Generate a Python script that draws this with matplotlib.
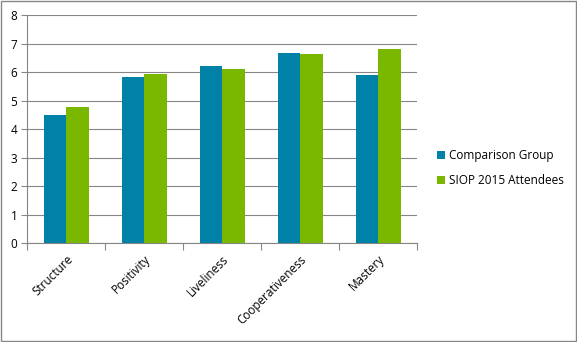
import matplotlib
matplotlib.use("Agg")
import matplotlib.pyplot as plt
import numpy as np
from matplotlib.patches import Rectangle

plt.rcParams["font.family"] = ["Open Sans", "DejaVu Sans"]

CATEGORIES = ["Structure", "Positivity", "Liveliness", "Cooperativeness", "Mastery"]
COMPARISON = [4.49, 5.82, 6.21, 6.67, 5.89]
SIOP_2015 = [4.77, 5.93, 6.10, 6.63, 6.81]
SERIES_NAMES = ["Comparison Group", "SIOP 2015 Attendees"]
BLUE = "#0082A8"
GREEN = "#7AB800"

fig = plt.figure(figsize=(5.77, 3.42), dpi=100)
ax = fig.add_axes([0.047, 0.289, 0.676, 0.667])

x = np.arange(len(CATEGORIES))
w = 0.29
ax.bar(x - w / 2, COMPARISON, w, color=BLUE, label=SERIES_NAMES[0], zorder=3)
ax.bar(x + w / 2, SIOP_2015, w, color=GREEN, label=SERIES_NAMES[1], zorder=3)

ax.set_xlim(-0.5, len(CATEGORIES) - 0.5)
ax.set_ylim(0, 8)
ax.set_yticks(range(0, 9))
ax.tick_params(axis="y", length=4, color="#868686", labelsize=8.5, pad=3)
ax.yaxis.grid(True, color="#868686", linewidth=0.8, zorder=0)

ax.set_xticks(np.arange(-0.5, len(CATEGORIES) + 0.5, 1.0))
ax.set_xticklabels([])
ax.tick_params(axis="x", length=5, color="#868686")
ax.set_xticks(x, minor=True)
ax.set_xticklabels(CATEGORIES, minor=True, rotation=45, ha="right",
                   rotation_mode="anchor", fontsize=8.5)
ax.tick_params(axis="x", which="minor", length=0, pad=7)

for side in ["top", "right"]:
    ax.spines[side].set_visible(False)
ax.spines["left"].set_color("#868686")
ax.spines["bottom"].set_color("#868686")

ax.legend(loc="center left", bbox_to_anchor=(1.024, 0.33), frameon=False,
          fontsize=8.5, handlelength=0.7, handleheight=0.7, handletextpad=0.3,
          labelspacing=1.0)

fig.patches.append(Rectangle((0.002, 0.003), 0.996, 0.994, transform=fig.transFigure,
                             fill=False, edgecolor="#868686", linewidth=1))

fig.savefig("out.png", dpi=100)
